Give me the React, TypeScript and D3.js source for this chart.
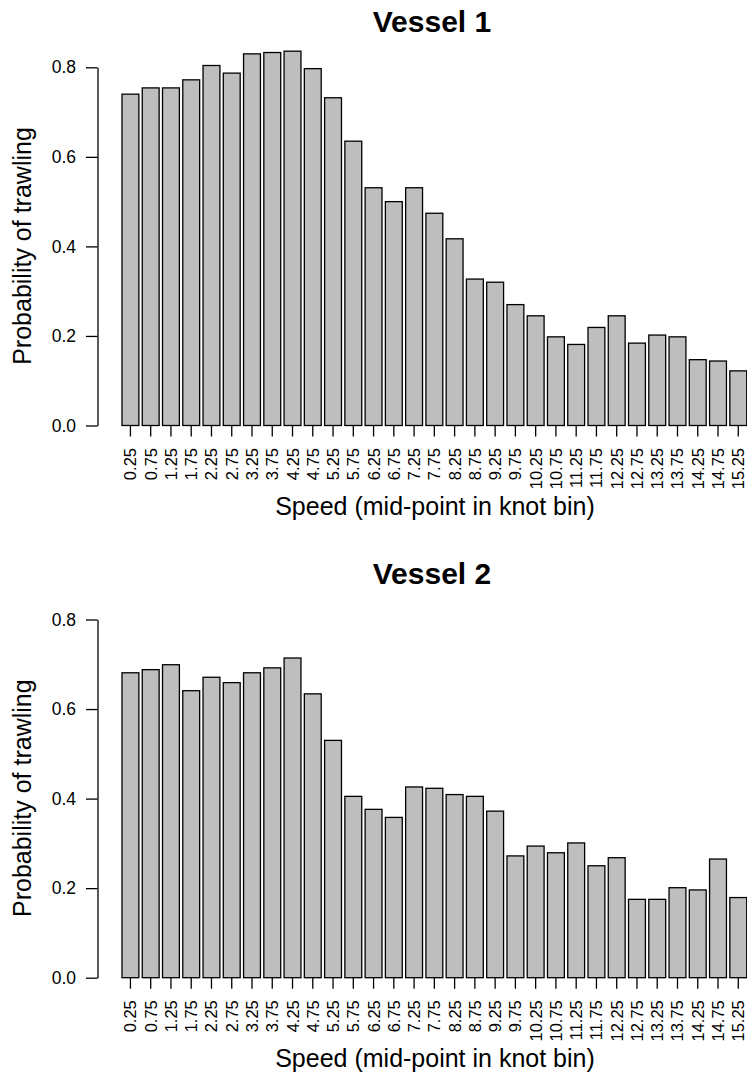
import React, { useEffect, useRef } from "react";
import * as d3 from "d3";

const speedBins = [
  "0.25", "0.75", "1.25", "1.75", "2.25", "2.75", "3.25", "3.75",
  "4.25", "4.75", "5.25", "5.75", "6.25", "6.75", "7.25", "7.75",
  "8.25", "8.75", "9.25", "9.75", "10.25", "10.75", "11.25", "11.75",
  "12.25", "12.75", "13.25", "13.75", "14.25", "14.75", "15.25",
];

const vessel1 = [
  0.740, 0.754, 0.754, 0.772, 0.804, 0.787, 0.830, 0.833, 0.836, 0.797,
  0.732, 0.635, 0.531, 0.500, 0.531, 0.474, 0.417, 0.327, 0.320, 0.270,
  0.245, 0.198, 0.181, 0.219, 0.245, 0.184, 0.202, 0.198, 0.147, 0.144,
  0.122,
];

const vessel2 = [
  0.681, 0.688, 0.699, 0.641, 0.671, 0.659, 0.681, 0.692, 0.714, 0.634,
  0.530, 0.405, 0.376, 0.358, 0.426, 0.423, 0.409, 0.405, 0.372, 0.272,
  0.294, 0.279, 0.301, 0.250, 0.268, 0.175, 0.175, 0.201, 0.196, 0.265,
  0.179,
];

const yTicks = [0, 0.2, 0.4, 0.6, 0.8];

const FONT = "'Liberation Sans', Arial, Helvetica, sans-serif";

const Panel = ({ title, values, offsetY }: { title: string; values: number[]; offsetY: number }) => {
  const ref = useRef<SVGGElement>(null);

  useEffect(() => {
    const g = d3.select(ref.current);
    g.selectAll("*").remove();

    const x = d3
      .scaleBand()
      .domain(speedBins)
      .range([120.3, 748.4])
      .paddingInner(1 / 6)
      .paddingOuter(1 / 12);

    const y = d3.scaleLinear().domain([0, 0.8]).range([425.5, 67.3]);

    // bars
    g.append("g")
      .selectAll("rect")
      .data(values)
      .enter()
      .append("rect")
      .attr("x", (d, i) => x(speedBins[i]))
      .attr("y", (d) => y(d))
      .attr("width", x.bandwidth())
      .attr("height", (d) => y(0) - y(d))
      .attr("fill", "#bebebe")
      .attr("stroke", "#000")
      .attr("stroke-width", 1.3);

    // y axis
    const ya = g
      .append("g")
      .attr("transform", "translate(97.5,0)")
      .call(
        d3
          .axisLeft(y)
          .tickValues(yTicks)
          .tickFormat(d3.format(".1f"))
          .tickSize(11.5)
          .tickSizeOuter(0)
          .tickPadding(10)
      );
    ya.attr("font-family", FONT).attr("font-size", 17.5);
    ya.selectAll("path, line").attr("stroke", "#000").attr("stroke-width", 1.3);
    ya.selectAll("text").attr("fill", "#000");

    // x axis: ticks and rotated labels, no axis line
    const xa = g
      .append("g")
      .attr("transform", `translate(0,${y(0)})`)
      .call(d3.axisBottom(x).tickSize(11).tickSizeOuter(0));
    xa.select(".domain").remove();
    xa.attr("font-family", FONT).attr("font-size", 16.5);
    xa.selectAll("line").attr("stroke", "#000").attr("stroke-width", 1.3);
    xa.selectAll("text")
      .attr("transform", "rotate(-90)")
      .attr("text-anchor", "end")
      .attr("x", -22.5)
      .attr("y", 6)
      .attr("dy", "0")
      .attr("fill", "#000");

    g.append("text")
      .attr("x", 432)
      .attr("y", 32)
      .attr("text-anchor", "middle")
      .attr("font-family", FONT)
      .attr("font-weight", "bold")
      .attr("font-size", 30)
      .text(title);

    g.append("text")
      .attr("x", 435)
      .attr("y", 515)
      .attr("text-anchor", "middle")
      .attr("font-family", FONT)
      .attr("font-size", 25)
      .text("Speed (mid-point in knot bin)");

    g.append("text")
      .attr("transform", "translate(31,246) rotate(-90)")
      .attr("text-anchor", "middle")
      .attr("font-family", FONT)
      .attr("font-size", 25)
      .text("Probability of trawling");
  }, [title, values]);

  return <g ref={ref} transform={`translate(0,${offsetY})`} />;
};

export default function App() {
  return (
    <svg
      width={747}
      height={1073}
      style={{ position: "absolute", left: 0, top: 0, display: "block", background: "#fff" }}
    >
      <rect width={747} height={1073} fill="#fff" />
      <Panel title="Vessel 1" values={vessel1} offsetY={0} />
      <Panel title="Vessel 2" values={vessel2} offsetY={552.2} />
    </svg>
  );
}
